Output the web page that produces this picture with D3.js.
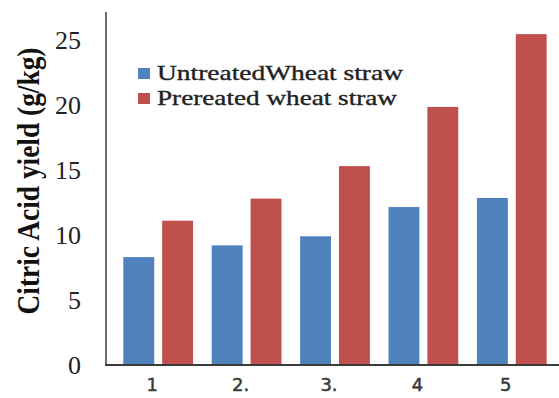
<!DOCTYPE html>
<html>
<head>
<meta charset="utf-8">
<script src="https://cdn.jsdelivr.net/npm/d3@7/dist/d3.min.js"></script>
<style>
  html, body { margin: 0; padding: 0; background: #fff; }
  svg { display: block; }
</style>
</head>
<body>
<svg id="chart" width="559" height="398"></svg>
<script>
// Citric acid yield per run, untreated vs. pretreated wheat straw
const categories = ["1", "2.", "3.", "4", "5"];
const seriesNames = ["UntreatedWheat straw", "Prereated wheat straw"];
const untreated = [8.3, 9.2, 9.9, 12.15, 12.85];
const pretreated = [11.1, 12.8, 15.3, 19.85, 25.45];
const yTicks = [0, 5, 10, 15, 20, 25];
const colors = ["#4f81bd", "#c0504d"];

const svg = d3.select("#chart");
const margin = { left: 106, top: 12 };
const W = 559;

const x = d3.scaleBand()
  .domain(categories)
  .range([114, 556]);

const x1 = d3.scaleBand()
  .domain([0, 1])
  .range([0, x.bandwidth()])
  .paddingInner(0.205)
  .paddingOuter(0.24);

const y = d3.scaleLinear()
  .domain([0, 25])
  .range([365, 40]);

const rows = categories.map((c, i) => ({ cat: c, vals: [untreated[i], pretreated[i]] }));

// Bars
svg.append("g")
  .selectAll("g.grp")
  .data(rows)
  .join("g")
  .attr("class", "grp")
  .attr("transform", d => `translate(${x(d.cat)},0)`)
  .selectAll("rect")
  .data(d => d.vals.map((v, k) => ({ v, k })))
  .join("rect")
  .attr("x", d => x1(d.k))
  .attr("width", x1.bandwidth())
  .attr("y", d => y(d.v))
  .attr("height", d => y(0) - y(d.v))
  .attr("fill", d => colors[d.k]);

// Y axis: labels plus a plain vertical rule
const yAxis = d3.axisLeft(y).tickValues(yTicks).tickSize(0).tickPadding(25);
const yg = svg.append("g").attr("transform", `translate(${margin.left},0)`).call(yAxis);
yg.select(".domain").remove();
yg.selectAll("text")
  .attr("font-family", "'Liberation Serif', 'Times New Roman', serif")
  .attr("font-size", 26)
  .attr("fill", "#222");
svg.append("line")
  .attr("x1", margin.left).attr("x2", margin.left)
  .attr("y1", margin.top).attr("y2", y(0) + 1)
  .attr("stroke", "#6e6e6e").attr("stroke-width", 2);

// X axis: labels plus baseline
const xAxis = d3.axisBottom(x).tickSize(0).tickPadding(13);
const xg = svg.append("g").attr("transform", `translate(-6,${y(0)})`).call(xAxis);
xg.select(".domain").remove();
xg.selectAll("text")
  .attr("font-family", "'DejaVu Sans', sans-serif")
  .attr("font-size", 18)
  .attr("fill", "#3a3a3a")
  .attr("stroke", "#3a3a3a")
  .attr("stroke-width", 0.5);
svg.append("line")
  .attr("x1", margin.left - 1).attr("x2", W)
  .attr("y1", y(0)).attr("y2", y(0))
  .attr("stroke", "#3a3a3a").attr("stroke-width", 2);

// Y axis title (slightly widened glyphs)
svg.append("text")
  .attr("transform", `translate(39,181) rotate(-90) scale(1,1.2)`)
  .attr("text-anchor", "middle")
  .attr("font-family", "'Liberation Serif', 'Times New Roman', serif")
  .attr("font-weight", "bold")
  .attr("font-size", 27)
  .attr("fill", "#111")
  .attr("textLength", 267)
  .attr("lengthAdjust", "spacingAndGlyphs")
  .text("Citric Acid yield (g/kg)");

// Legend
const legendWidths = [246, 240];
const legend = svg.append("g").attr("transform", "translate(138,68)");
const li = legend.selectAll("g")
  .data(seriesNames)
  .join("g")
  .attr("transform", (d, i) => `translate(0,${i * 25})`);
li.append("rect")
  .attr("width", 12).attr("height", 11)
  .attr("fill", (d, i) => colors[i]);
li.append("text")
  .attr("x", 19).attr("y", 12)
  .attr("font-family", "'Liberation Serif', 'Times New Roman', serif")
  .attr("font-size", 21)
  .attr("fill", "#222")
  .attr("stroke", "#222")
  .attr("stroke-width", 0.35)
  .attr("textLength", (d, i) => legendWidths[i])
  .attr("lengthAdjust", "spacingAndGlyphs")
  .text(d => d);
</script>
</body>
</html>
